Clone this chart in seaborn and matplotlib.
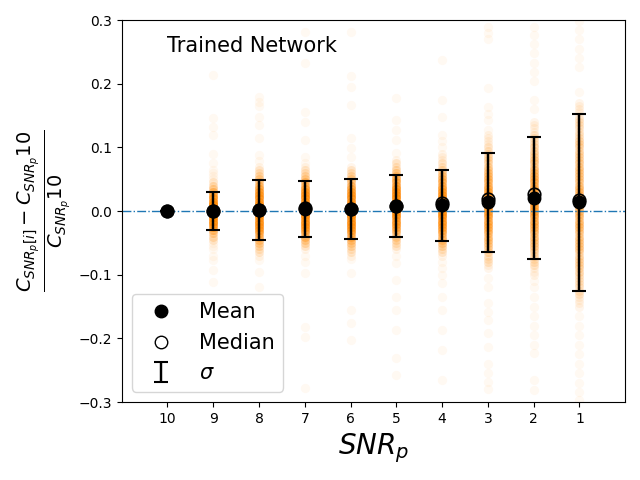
import numpy as np
import pandas as pd
import matplotlib
matplotlib.use("Agg")
import matplotlib.pyplot as plt
import seaborn as sns
from matplotlib.lines import Line2D

# ---- summary values ----
snr = [10, 9, 8, 7, 6, 5, 4, 3, 2, 1]
mean_vals = [0.0, 0.000, 0.002, 0.004, 0.003, 0.0075, 0.009, 0.014, 0.020, 0.014]
median_vals = [0.0, 0.000, 0.002, 0.005, 0.004, 0.008, 0.013, 0.019, 0.027, 0.017]
sigma_vals = [0.0, 0.030, 0.0476, 0.044, 0.047, 0.049, 0.056, 0.078, 0.096, 0.139]

# ---- scatter cloud: core values with counts, plus individual tail points ----
core_10 = [0.0]
cnt_10 = [40]
tail_10 = []

core_9 = [-0.045, -0.04, -0.035, -0.03, -0.025, -0.02, -0.015, -0.01, -0.005, 0.0,
          0.005, 0.01, 0.015, 0.02, 0.025, 0.03, 0.035, 0.04, 0.045]
cnt_9 = [2, 3, 4, 6, 9, 12, 15, 18, 20, 21, 20, 18, 15, 12, 9, 6, 4, 3, 2]
tail_9 = [0.05, 0.055, 0.06, 0.065, 0.075, 0.09, 0.119, 0.132, 0.146, 0.214,
          -0.05, -0.055, -0.06, -0.07, -0.077, -0.093, -0.111]

core_8 = [-0.07, -0.065, -0.06, -0.055, -0.05, -0.045, -0.04, -0.035, -0.03, -0.025,
          -0.02, -0.015, -0.01, -0.005, 0.0, 0.005, 0.01, 0.015, 0.02, 0.025,
          0.03, 0.035, 0.04, 0.045, 0.05, 0.055, 0.06, 0.065, 0.07]
cnt_8 = [1, 2, 2, 3, 4, 5, 7, 8, 10, 11, 12, 13, 14, 15, 15, 15, 14, 13, 12, 11,
         10, 8, 7, 5, 4, 3, 2, 2, 1]
tail_8 = [0.078, 0.088, 0.115, 0.135, 0.148, 0.165, 0.172, 0.18,
          -0.077, -0.096, -0.119]

core_7 = [-0.06, -0.055, -0.05, -0.045, -0.04, -0.035, -0.03, -0.025, -0.02, -0.015,
          -0.01, -0.005, 0.0, 0.005, 0.01, 0.015, 0.02, 0.025, 0.03, 0.035,
          0.04, 0.045, 0.05, 0.055, 0.06, 0.065, 0.07]
cnt_7 = [1, 2, 3, 4, 6, 7, 9, 11, 12, 13, 14, 15, 15, 15, 15, 14, 13, 12, 11, 9,
         7, 6, 4, 3, 2, 2, 1]
tail_7 = [0.075, 0.085, 0.111, 0.14, 0.156, 0.232, 0.281,
          -0.07, -0.08, -0.097, -0.182, -0.198, -0.278]

core_6 = [-0.07, -0.065, -0.06, -0.055, -0.05, -0.045, -0.04, -0.035, -0.03, -0.025,
          -0.02, -0.015, -0.01, -0.005, 0.0, 0.005, 0.01, 0.015, 0.02, 0.025,
          0.03, 0.035, 0.04, 0.045, 0.05, 0.055, 0.06, 0.065, 0.07]
cnt_6 = [1, 2, 2, 3, 4, 5, 7, 8, 10, 11, 12, 13, 14, 15, 15, 15, 14, 13, 12, 11,
         10, 8, 7, 5, 4, 3, 2, 2, 1]
tail_6 = [0.085, 0.099, 0.115, 0.166, 0.195, 0.213, 0.281,
          -0.075, -0.097, -0.155, -0.176, -0.203]

core_5 = [-0.06, -0.055, -0.05, -0.045, -0.04, -0.035, -0.03, -0.025, -0.02, -0.015,
          -0.01, -0.005, 0.0, 0.005, 0.01, 0.015, 0.02, 0.025, 0.03, 0.035,
          0.04, 0.045, 0.05, 0.055, 0.06, 0.065, 0.07, 0.075, 0.08]
cnt_5 = [1, 2, 2, 3, 4, 5, 7, 8, 10, 11, 12, 13, 14, 15, 15, 15, 14, 13, 12, 11,
         10, 8, 7, 5, 4, 3, 2, 2, 1]
tail_5 = [0.091, 0.111, 0.127, 0.143, 0.177,
          -0.07, -0.082, -0.108, -0.135, -0.155, -0.187, -0.231, -0.258]

core_4 = [-0.07, -0.065, -0.06, -0.055, -0.05, -0.045, -0.04, -0.035, -0.03, -0.025,
          -0.02, -0.015, -0.01, -0.005, 0.0, 0.005, 0.01, 0.015, 0.02, 0.025,
          0.03, 0.035, 0.04, 0.045, 0.05, 0.055, 0.06, 0.065, 0.07, 0.075,
          0.08, 0.085, 0.09]
cnt_4 = [1, 2, 2, 3, 4, 5, 6, 7, 8, 9, 10, 11, 12, 13, 13, 13, 13, 13, 12, 11,
         10, 9, 8, 7, 6, 5, 4, 3, 2, 2, 1, 1, 1]
tail_4 = [0.1, 0.11, 0.12, 0.148, 0.174, 0.237,
          -0.08, -0.09, -0.1, -0.113, -0.135, -0.155, -0.187, -0.218, -0.265]

core_3 = [-0.09, -0.085, -0.08, -0.075, -0.07, -0.065, -0.06, -0.055, -0.05, -0.045,
          -0.04, -0.035, -0.03, -0.025, -0.02, -0.015, -0.01, -0.005, 0.0, 0.005,
          0.01, 0.015, 0.02, 0.025, 0.03, 0.035, 0.04, 0.045, 0.05, 0.055,
          0.06, 0.065, 0.07, 0.075, 0.08, 0.085, 0.09, 0.095, 0.1, 0.105,
          0.11, 0.115, 0.12]
cnt_3 = [1, 1, 2, 2, 2, 3, 3, 4, 4, 5, 5, 6, 6, 7, 7, 8, 8, 9, 9, 9,
         9, 9, 9, 8, 8, 7, 7, 6, 6, 5, 5, 4, 4, 3, 3, 3, 2, 2, 2, 1,
         1, 1, 1]
tail_3 = [0.127, 0.143, 0.153, 0.163, 0.193, 0.27, 0.28, 0.29,
          -0.105, -0.12, -0.145, -0.158, -0.171, -0.192, -0.213,
          -0.24, -0.255, -0.268, -0.28]

core_2 = [-0.1, -0.095, -0.09, -0.085, -0.08, -0.075, -0.07, -0.065, -0.06, -0.055,
          -0.05, -0.045, -0.04, -0.035, -0.03, -0.025, -0.02, -0.015, -0.01, -0.005,
          0.0, 0.005, 0.01, 0.015, 0.02, 0.025, 0.03, 0.035, 0.04, 0.045,
          0.05, 0.055, 0.06, 0.065, 0.07, 0.075, 0.08, 0.085, 0.09, 0.095,
          0.1, 0.105, 0.11, 0.115, 0.12, 0.125, 0.13, 0.135, 0.14]
cnt_2 = [1, 1, 1, 2, 2, 2, 3, 3, 3, 4, 4, 4, 5, 5, 5, 6, 6, 7, 7, 7,
         8, 8, 8, 8, 8, 8, 8, 7, 7, 7, 6, 6, 5, 5, 4, 4, 4, 3, 3, 3,
         3, 2, 2, 2, 2, 1, 1, 1, 1]
tail_2 = [0.16, 0.174, 0.205, 0.218, 0.232, 0.248, 0.262, 0.276, 0.29,
          -0.11, -0.12, -0.135, -0.15, -0.165, -0.18, -0.195, -0.21, -0.223,
          -0.265, -0.281]

core_1 = [-0.15, -0.145, -0.14, -0.135, -0.13, -0.125, -0.12, -0.115, -0.11, -0.105,
          -0.1, -0.095, -0.09, -0.085, -0.08, -0.075, -0.07, -0.065, -0.06, -0.055,
          -0.05, -0.045, -0.04, -0.035, -0.03, -0.025, -0.02, -0.015, -0.01, -0.005,
          0.0, 0.005, 0.01, 0.015, 0.02, 0.025, 0.03, 0.035, 0.04, 0.045,
          0.05, 0.055, 0.06, 0.065, 0.07, 0.075, 0.08, 0.085, 0.09, 0.095,
          0.1, 0.105, 0.11, 0.115, 0.12, 0.125, 0.13, 0.135, 0.14, 0.145,
          0.15, 0.155, 0.16, 0.165, 0.17]
cnt_1 = [1, 1, 1, 1, 2, 2, 2, 2, 2, 2, 2, 3, 3, 3, 3, 3, 3, 3, 4, 4,
         4, 4, 4, 4, 4, 5, 5, 5, 5, 5, 5, 5, 5, 5, 5, 5, 5, 5, 5, 4,
         4, 4, 4, 4, 4, 4, 3, 3, 3, 3, 3, 3, 3, 2, 2, 2, 2, 2, 2, 2,
         1, 1, 1, 1, 1]
tail_1 = [0.187, 0.226, 0.24, 0.255, 0.27, 0.285, 0.298,
          -0.165, -0.18, -0.195, -0.21, -0.225, -0.24, -0.255, -0.27,
          -0.285, -0.297]

cores = [core_10, core_9, core_8, core_7, core_6, core_5, core_4, core_3, core_2, core_1]
counts = [cnt_10, cnt_9, cnt_8, cnt_7, cnt_6, cnt_5, cnt_4, cnt_3, cnt_2, cnt_1]
tails = [tail_10, tail_9, tail_8, tail_7, tail_6, tail_5, tail_4, tail_3, tail_2, tail_1]

core_rows, tail_rows = [], []
for s, c, n, t in zip(snr, cores, counts, tails):
    core_rows += [(s, v) for v in np.repeat(c, n)]
    tail_rows += [(s, v) for v in t]
core_df = pd.DataFrame(core_rows, columns=["snr", "rel"])
tail_df = pd.DataFrame(tail_rows, columns=["snr", "rel"])

fig, ax = plt.subplots(figsize=(6.4, 4.8), dpi=100)
fig.subplots_adjust(left=0.19, right=0.977, top=0.958, bottom=0.1625)

sns.scatterplot(data=tail_df, x="snr", y="rel", color="darkorange", alpha=0.05,
                s=45, linewidth=0, ax=ax, legend=False, zorder=1)
sns.scatterplot(data=core_df, x="snr", y="rel", color="darkorange", alpha=0.08,
                s=42, linewidth=0, ax=ax, legend=False, zorder=1)

ax.axhline(0, ls="-.", color="C0", lw=1.0, zorder=2)

eb = ax.errorbar(snr, mean_vals, yerr=sigma_vals, fmt="none", ecolor="black",
                 elinewidth=1.75, capsize=5, capthick=1.5, zorder=3)

ax.plot(snr, median_vals, ls="none", marker="o", ms=9, mfc="none", mec="black",
        mew=1.2, zorder=4)
ax.plot(snr, mean_vals, ls="none", marker="o", ms=9, color="black", zorder=5)

ax.set_xlim(11, 0)
ax.set_ylim(-0.3, 0.3)
ax.set_xticks(snr)
ax.set_xticklabels([str(s) for s in snr])
ax.set_yticks([-0.3, -0.2, -0.1, 0.0, 0.1, 0.2, 0.3])

ax.set_xlabel(r"$SNR_p$", fontsize=20)
ax.set_ylabel(r"$\frac{C_{SNR_p[i]}-C_{SNR_p}10}{C_{SNR_p}10}$", fontsize=20)

ax.text(snr[0], 0.25, "Trained Network", fontsize=15)

h_mean = Line2D([], [], ls="none", marker="o", ms=9, color="black")
h_med = Line2D([], [], ls="none", marker="o", ms=9, mfc="white", mec="black")
ax.legend([h_mean, h_med, eb], ["Mean", "Median", r"$\sigma$"], loc="lower left",
          fontsize=15)

fig.savefig("out.png", dpi=100)
